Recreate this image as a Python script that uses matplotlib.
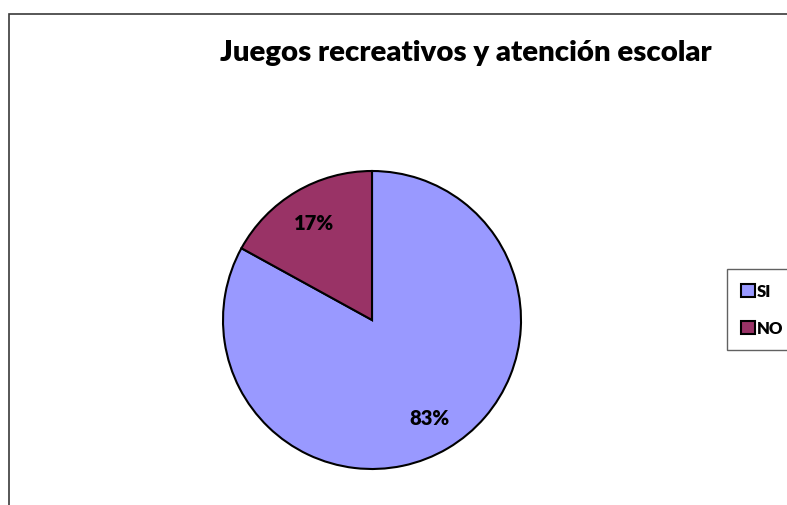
import matplotlib
matplotlib.use("Agg")
from matplotlib import pyplot as plt
from matplotlib.patches import Rectangle, Patch

# Datos de la encuesta
categorias = ["SI", "NO"]
porcentajes = [83, 17]
colores = ["#9999FF", "#993366"]
titulo = "Juegos recreativos y atención escolar"

plt.rcParams['font.family'] = ['Lato', 'DejaVu Sans']

W, H = 787, 506
fig = plt.figure(figsize=(W / 100, H / 100), dpi=100)
fig.patch.set_facecolor('white')

# Marco del área del gráfico (se corta por la derecha y abajo)
marco = Rectangle((9 / W, -0.05), 1.0, 1 - 15 / H + 0.05, transform=fig.transFigure,
                  fill=False, edgecolor='#3a3a3a', linewidth=1.2, clip_on=False)
fig.patches.append(marco)

# Ejes del pastel: centro (372, 321), radio 149 px
ax = fig.add_axes([223 / W, 36 / H, 298 / W, 298 / H])
wedges, textos, autotextos = ax.pie(
    porcentajes, colors=colores, startangle=90, counterclock=False, radius=1,
    autopct='%1.0f%%', pctdistance=0.76,
    wedgeprops=dict(edgecolor='black', linewidth=1.5),
    textprops=dict(fontsize=14.5, fontweight='heavy', color='black'))
ax.set_xlim(-1, 1)
ax.set_ylim(-1, 1)
ax.set_aspect('equal')
ax.axis('off')

fig.text(466 / W, 1 - 53 / H, titulo, ha='center', va='center',
         fontsize=21.2, fontweight='heavy')

handles = [Patch(facecolor=c, edgecolor='black', linewidth=1.5) for c in colores]
leg = fig.legend(handles, categorias, loc='upper left',
                 bbox_to_anchor=(727 / W, 1 - 270 / H), frameon=True, fancybox=False,
                 handlelength=0.8, handleheight=0.8, handletextpad=0.15,
                 labelspacing=1.25, borderpad=0.85, borderaxespad=0,
                 prop=dict(size=12, weight='heavy'))
leg.get_frame().set_edgecolor('#3a3a3a')
leg.get_frame().set_linewidth(1.0)

fig.savefig("out.png", dpi=100)
